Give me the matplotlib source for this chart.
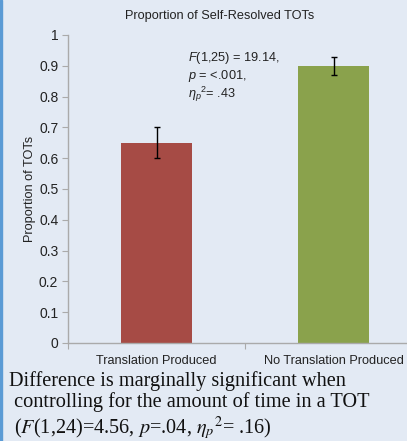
import numpy as np
import matplotlib.pyplot as plt
from matplotlib.patches import Rectangle

plt.rcParams['font.family'] = ['Liberation Sans', 'DejaVu Sans']
plt.rcParams['mathtext.fontset'] = 'custom'
plt.rcParams['mathtext.rm'] = 'Liberation Sans'
plt.rcParams['mathtext.it'] = 'Liberation Sans:italic'

# data
categories = ['Translation Produced', 'No Translation Produced']
proportions = [0.65, 0.90]
err_low = [0.05, 0.03]
err_high = [0.05, 0.03]
bar_colors = ['#A64B45', '#8AA24C']
yticks = [0, 0.1, 0.2, 0.3, 0.4, 0.5, 0.6, 0.7, 0.8, 0.9, 1]

bg = '#E3EAF4'
W, H = 407, 441

fig = plt.figure(figsize=(W / 100, H / 100), dpi=100, facecolor=bg)
# axes: y axis at x=68, y=1 at 35 px, y=0 at 343 px, categories 177 px wide
ax = fig.add_axes([68 / W, 1 - 343 / H, 354 / W, 308 / H])
ax.set_facecolor(bg)

x = np.arange(len(categories))
ax.bar(x, proportions, width=0.4, color=bar_colors, edgecolor='none', zorder=2)
ax.errorbar(x, proportions, yerr=[err_low, err_high], fmt='none',
            ecolor='black', elinewidth=1.0, capsize=2.5, capthick=1.0, zorder=3)

ax.set_xlim(-0.5, 1.5)
ax.set_ylim(0, 1)
ax.set_yticks(yticks)
ax.set_yticklabels(['0'] + [f'{t:g}' for t in yticks[1:]], fontsize=10, color='#222222')
ax.set_xticks([-0.5, 0.5, 1.5])
ax.set_xticklabels([])
ax.xaxis.set_minor_locator(plt.FixedLocator(x))
ax.set_xticklabels(categories, minor=True, fontsize=9.2, color='#222222')
ax.tick_params(axis='x', which='minor', length=0, pad=9)
ax.tick_params(axis='x', which='major', length=4, color='#AAAAAA')
ax.tick_params(axis='y', length=4, color='#AAAAAA', pad=3)

for side in ['top', 'right']:
    ax.spines[side].set_visible(False)
for side in ['left', 'bottom']:
    ax.spines[side].set_color('#AAAAAA')
    ax.spines[side].set_linewidth(1.0)

ax.set_ylabel('Proportion of TOTs', fontsize=9.2, color='#222222', labelpad=0)
ax.yaxis.set_label_coords(-32 / 354, 0.5)

fig.text(220 / W, 1 - 16 / H, 'Proportion of Self-Resolved TOTs',
         ha='center', va='center', fontsize=9.2, color='#222222')

ax.text(0.178, 0.95, '$F$(1,25) = 19.14,\n$p$ = <.001,\n$\\eta_p$$^2$= .43',
        fontsize=9.2, color='#222222', va='top', ha='left', linespacing=1.1)

caption = ('Difference is marginally significant when\n'
           ' controlling for the amount of time in a TOT\n'
           ' ($F$(1,24)=4.56, $p$=.04, $\\eta_p$$^2$= .16)')
fig.text(9 / W, 1 - 371 / H, caption, fontsize=14.6, family='Liberation Serif',
         math_fontfamily='stix', va='top', ha='left', color='#111111',
         linespacing=1.1)

# blue border on the left edge
fig.patches.append(Rectangle((0, 0), 2 / W, 1, transform=fig.transFigure,
                             color='#5B9BD5', zorder=10))

fig.savefig('out.png', dpi=100, facecolor=bg)
